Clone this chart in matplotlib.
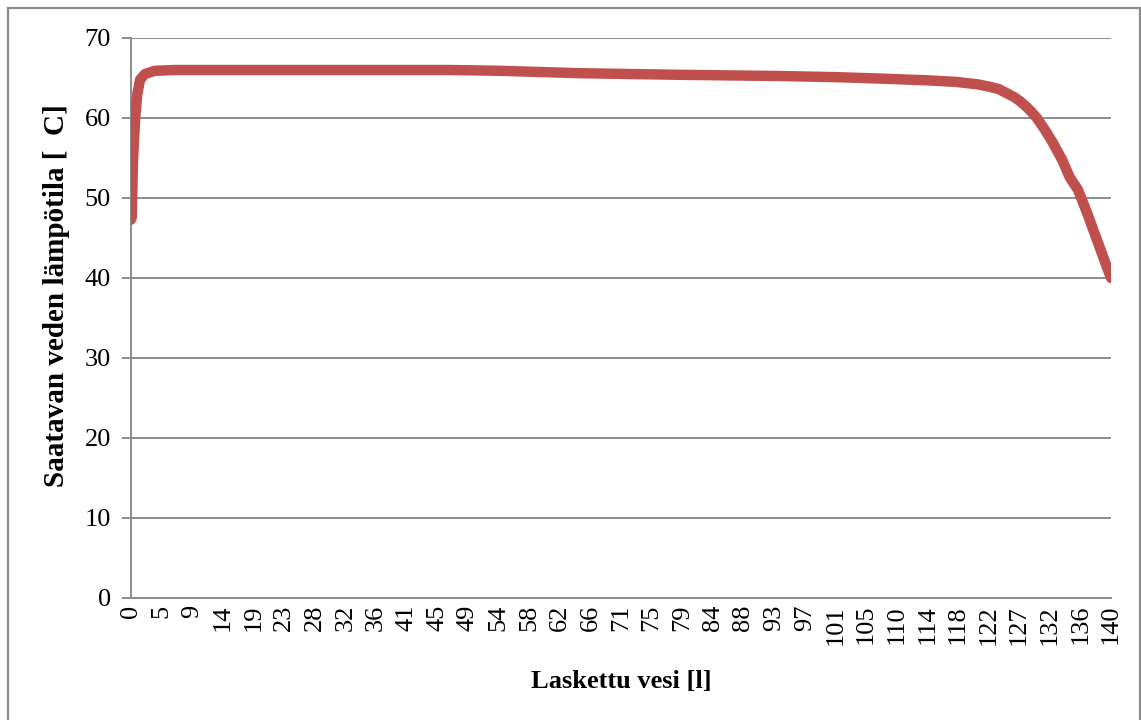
#!/usr/bin/env python3
"""Outlet water temperature versus drained volume."""

import matplotlib
matplotlib.use("Agg")
import matplotlib.pyplot as plt
from matplotlib.patches import Rectangle
import numpy as np

# Drained volume [l] and measured outlet temperature [C]
volume = [0.0, 0.1, 0.3, 0.6, 0.9, 1.3, 2.0, 3.4, 6.3, 20.0, 35.0, 45.6,
          52.7, 64.1, 78.4, 92.7, 101.0, 108.0, 114.0, 118.0, 121.0, 122.7,
          124.0, 125.1, 126.2, 127.0, 127.8, 128.6, 129.4, 130.5, 131.7,
          133.0, 134.1, 135.3, 136.6, 138.0, 139.4, 140.0]
temperature = [47.3, 47.6, 55.0, 60.0, 63.0, 64.8, 65.5, 65.9, 66.0, 66.0,
               66.0, 66.0, 65.9, 65.6, 65.4, 65.25, 65.1, 64.9, 64.7, 64.5,
               64.2, 63.9, 63.6, 63.1, 62.6, 62.1, 61.5, 60.8, 60.0, 58.6,
               56.9, 54.8, 52.6, 51.0, 48.1, 44.75, 41.4, 40.0]

x_tick_labels = ["0", "5", "9", "14", "19", "23", "28", "32", "36", "41", "45",
                 "49", "54", "58", "62", "66", "71", "75", "79", "84", "88",
                 "93", "97", "101", "105", "110", "114", "118", "122", "127",
                 "132", "136", "140"]
y_ticks = [0, 10, 20, 30, 40, 50, 60, 70]

LINE_COLOR = "#c0504d"
GRID_COLOR = "#8c8c8c"

plt.rcParams["font.family"] = ["Liberation Serif", "DejaVu Serif"]

fig = plt.figure(figsize=(11.41, 7.2), dpi=100)
ax = fig.add_axes([131 / 1141, 1 - 598 / 720, 980 / 1141, 560 / 720])

# outer chart border
fig.patches.append(Rectangle((8 / 1141, -0.01), 1132 / 1141, 1 - 8 / 720 + 0.01,
                             transform=fig.transFigure, fill=False,
                             edgecolor="#8c8c8c", linewidth=1.6))

ax.plot(volume, temperature, color=LINE_COLOR, linewidth=7.5,
        solid_capstyle="round", solid_joinstyle="round", zorder=3)

ax.set_xlim(0, 140)
ax.set_ylim(0, 70)
ax.set_yticks(y_ticks)
ax.set_xticks(np.linspace(0, 140, len(x_tick_labels)))
ax.set_xticklabels(x_tick_labels, rotation=90)

ax.grid(True, axis="y", color=GRID_COLOR, linewidth=1.4)
ax.set_axisbelow(True)

for side in ("top", "right"):
    ax.spines[side].set_visible(False)
for side in ("left", "bottom"):
    ax.spines[side].set_color(GRID_COLOR)
    ax.spines[side].set_linewidth(1.4)

ax.tick_params(axis="y", length=6.5, width=1.4, color=GRID_COLOR,
               labelsize=19, pad=8)
ax.tick_params(axis="x", length=0, labelsize=19, pad=5)

ax.set_xlabel("Laskettu vesi [l]", fontsize=19, fontweight="bold", labelpad=18)
ax.set_ylabel("Saatavan veden lämpötila [  C]", fontsize=21, fontweight="bold")
ax.yaxis.set_label_coords(-0.062, 0.54)

fig.savefig("out.png", dpi=100)
